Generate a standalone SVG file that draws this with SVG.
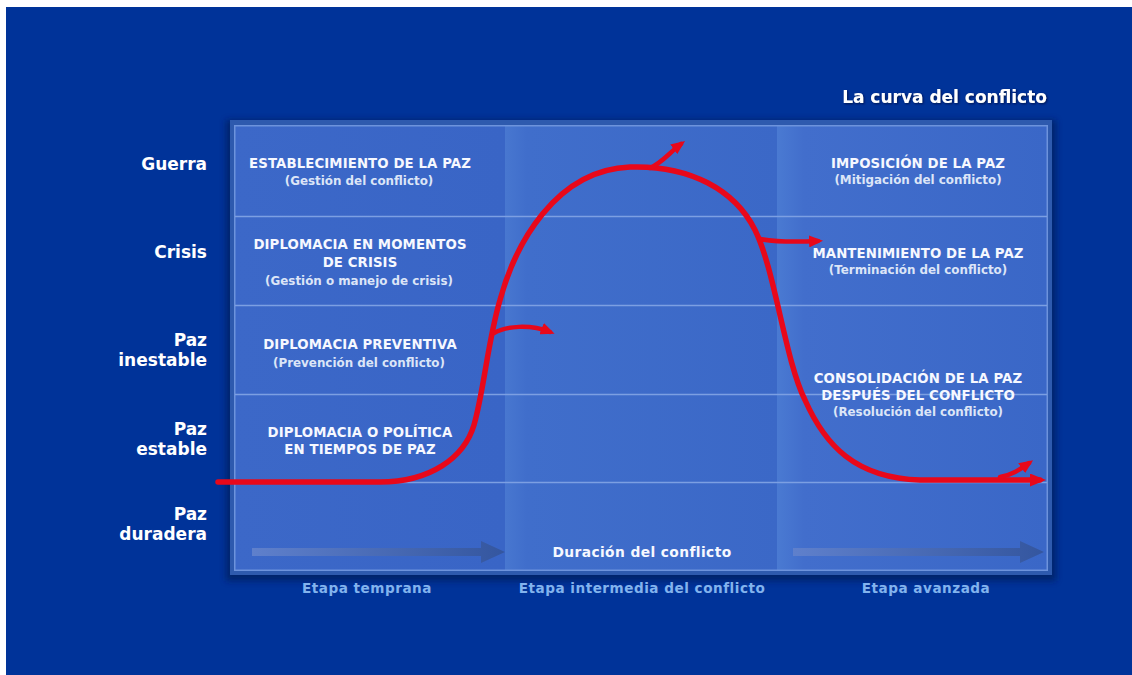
<svg xmlns="http://www.w3.org/2000/svg" width="1132" height="675" viewBox="0 0 1132 675">
<style>
text{font-family:"DejaVu Sans","Liberation Sans",sans-serif;font-weight:bold}
.lvl{font-size:17px;fill:#ffffff;text-anchor:end}
.hd{font-size:13.3px;fill:#f6f8ff;text-anchor:middle;letter-spacing:0.1px}
.sb{font-size:11.9px;fill:#dce5f7;text-anchor:middle}
.stage{font-size:13.6px;fill:#82b3ee;text-anchor:middle;letter-spacing:0.5px}
.grid{stroke:#7c9fe2;stroke-width:1.5}
.curve{fill:none;stroke:#e8081a;stroke-width:5.5;stroke-linecap:round}
.branch{fill:none;stroke:#e8081a;stroke-width:4.5;stroke-linecap:round}
</style>
<defs>
<linearGradient id="colL" x1="0" y1="0" x2="1" y2="0"><stop offset="0" stop-color="#3c68c8"/><stop offset="1" stop-color="#3965c6"/></linearGradient>
<linearGradient id="colM" x1="0" y1="0" x2="1" y2="0"><stop offset="0" stop-color="#4877d0"/><stop offset="0.08" stop-color="#406ecb"/><stop offset="1" stop-color="#3b68c7"/></linearGradient>
<linearGradient id="colR" x1="0" y1="0" x2="1" y2="0"><stop offset="0" stop-color="#4a7ad2"/><stop offset="0.1" stop-color="#426ecc"/><stop offset="1" stop-color="#3a67c7"/></linearGradient>
<linearGradient id="durArrow" x1="0" y1="0" x2="1" y2="0"><stop offset="0" stop-color="#5f80cc"/><stop offset="1" stop-color="#34569f"/></linearGradient>
<filter id="shadow" x="-5%" y="-5%" width="110%" height="110%"><feGaussianBlur stdDeviation="3"/></filter>
<filter id="tshadow" x="-5%" y="-20%" width="110%" height="140%"><feDropShadow dx="1" dy="1" stdDeviation="0.8" flood-color="#001040" flood-opacity="0.8"/></filter>
<marker id="arrowRed" viewBox="0 0 16 13" refX="10" refY="6.5" markerWidth="16" markerHeight="13" markerUnits="userSpaceOnUse" orient="auto"><path d="M0,0 L16,6.5 L0,13 z" fill="#e8081a"/></marker>
<marker id="arrowSmall" viewBox="0 0 14 12" refX="9" refY="6" markerWidth="14" markerHeight="12" markerUnits="userSpaceOnUse" orient="auto"><path d="M0,0 L14,6 L0,12 z" fill="#e8081a"/></marker>
</defs>
<rect width="1132" height="675" fill="#ffffff"/>
<rect x="6" y="7" width="1126" height="668" fill="#003399"/>
<g id="panel">
<rect x="226" y="120" width="830" height="461" fill="#001a5a" opacity="0.7" filter="url(#shadow)"/>
<rect x="230" y="120" width="822" height="455" fill="#2e5aae"/>
<rect x="235" y="126" width="270" height="444" fill="url(#colL)"/>
<rect x="505" y="126" width="272" height="444" fill="url(#colM)"/>
<rect x="777" y="126" width="270" height="444" fill="url(#colR)"/>
<rect x="234.75" y="125.75" width="812.5" height="444.5" fill="none" stroke="#6d93dc" stroke-width="1.5"/>
<line class="grid" x1="235" y1="216.5" x2="1047" y2="216.5"/>
<line class="grid" x1="235" y1="305.5" x2="1047" y2="305.5"/>
<line class="grid" x1="235" y1="394.5" x2="1047" y2="394.5"/>
<line class="grid" x1="235" y1="482.5" x2="1047" y2="482.5"/>
</g>
<g id="title"><text x="1047" y="103" font-size="17" fill="#ffffff" text-anchor="end" filter="url(#tshadow)">La curva del conflicto</text></g>
<g id="levels">
<text class="lvl" x="207" y="170">Guerra</text>
<text class="lvl" x="207" y="258">Crisis</text>
<text class="lvl" x="207" y="346">Paz</text>
<text class="lvl" x="207" y="366">inestable</text>
<text class="lvl" x="207" y="435">Paz</text>
<text class="lvl" x="207" y="455">estable</text>
<text class="lvl" x="207" y="520">Paz</text>
<text class="lvl" x="207" y="540">duradera</text>
</g>
<g id="cell-establecimiento"><text class="hd" x="360" y="168">ESTABLECIMIENTO DE LA PAZ</text><text class="sb" x="359" y="185">(Gestión del conflicto)</text></g>
<g id="cell-crisis"><text class="hd" x="360" y="249">DIPLOMACIA EN MOMENTOS</text><text class="hd" x="360" y="267">DE CRISIS</text><text class="sb" x="359" y="285">(Gestión o manejo de crisis)</text></g>
<g id="cell-preventiva"><text class="hd" x="360" y="349">DIPLOMACIA PREVENTIVA</text><text class="sb" x="359" y="367">(Prevención del conflicto)</text></g>
<g id="cell-politica"><text class="hd" x="360" y="437">DIPLOMACIA O POLÍTICA</text><text class="hd" x="360" y="454">EN TIEMPOS DE PAZ</text></g>
<g id="cell-imposicion"><text class="hd" x="918" y="168">IMPOSICIÓN DE LA PAZ</text><text class="sb" x="918" y="184">(Mitigación del conflicto)</text></g>
<g id="cell-mantenimiento"><text class="hd" x="918" y="258">MANTENIMIENTO DE LA PAZ</text><text class="sb" x="918" y="274">(Terminación del conflicto)</text></g>
<g id="cell-consolidacion"><text class="hd" x="918" y="383">CONSOLIDACIÓN DE LA PAZ</text><text class="hd" x="918" y="400">DESPUÉS DEL CONFLICTO</text><text class="sb" x="918" y="416">(Resolución del conflicto)</text></g>
<g id="duration">
<path d="M252,548 L481,548 L481,541 L505,552 L481,563 L481,556 L252,556 z" fill="url(#durArrow)"/>
<path d="M793,548 L1020,548 L1020,541 L1044,552 L1020,563 L1020,556 L793,556 z" fill="url(#durArrow)"/>
<text x="642" y="557" font-size="13.8" fill="#f6f8ff" text-anchor="middle" letter-spacing="0.4">Duración del conflicto</text>
</g>
<g id="stages">
<text class="stage" x="367" y="593">Etapa temprana</text>
<text class="stage" x="642" y="593">Etapa intermedia del conflicto</text>
<text class="stage" x="926" y="593">Etapa avanzada</text>
</g>
<g id="connectors">
<path class="curve" marker-end="url(#arrowRed)" d="M218,482 L380,482 C430,482 464,458 474,425 C484,390 488,340 500,300 C515,245 555,170 630,167 C690,165 735,190 755,230 C775,270 785,360 805,400 C825,445 855,478 920,480 L1040,480"/>
<path class="branch" marker-end="url(#arrowSmall)" d="M494,333 C506,326 530,324 550,332"/>
<path class="branch" marker-end="url(#arrowSmall)" d="M650,168 C662,163 670,152 681,144"/>
<path class="branch" marker-end="url(#arrowSmall)" d="M760,239 C776,242 798,242 818,241"/>
<path class="branch" marker-end="url(#arrowSmall)" d="M1000,477 C1012,475 1019,470 1029,463"/>
</g>
</svg>
